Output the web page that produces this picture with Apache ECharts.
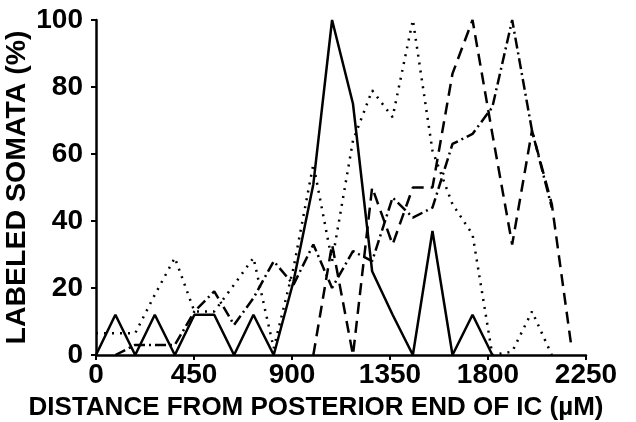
<!DOCTYPE html>
<html>
<head>
<meta charset="utf-8">
<script src="https://cdn.jsdelivr.net/npm/echarts@6/dist/echarts.min.js"></script>
<style>html,body{margin:0;padding:0;background:#fff}#c{width:636px;height:422px}</style>
</head>
<body>
<div id="c"></div>
<script>
// distance from posterior end of IC (µm), sampling positions
var distances = [0, 89, 180, 270, 362, 452, 543, 634, 723, 816, 907, 998, 1084, 1180, 1268, 1362, 1455, 1545, 1637, 1729, 1820, 1911, 2002, 2093, 2184];
// labeled somata (%)
var solidSeries   = [0, 12, 0, 12, 0, 12, 12, 0, 12, 0, 22, 51, 100, 75, 25, 12, 0, 37, 0, 12, 0, null, null, null, null];
var dottedSeries  = [6.5, 6.5, 6.5, 18, 29, 13, 13, 21, 29, 2, 26, 57, 28, 64, 79, 71, 100, 61, 45, 36, 0, 1, 13, 0, null];
var dashedSeries  = [null, null, null, null, null, null, null, null, null, null, null, 0, 33, 0, 50, 33, 50, 50, 84, 100, 66, 33, 67, 45, 2];
var dashDotSeries = [null, 0, 3, 3, 3, 13, 19, 9, 17, 28, 21, 33, 20, 31, 28, 47, 41, 44, 63, 66, 74, 100, 67, 44, null];
var xTicks = [0, 450, 900, 1350, 1800, 2250];
var yTicks = [0, 20, 40, 60, 80, 100];

function pairs(vals) {
  var out = [];
  for (var i = 0; i < distances.length; i++) out.push([distances[i], vals[i] === null ? null : vals[i]]);
  return out;
}
var FONT = 'Liberation Sans';
var chart = echarts.init(document.getElementById('c'), null, {renderer: 'canvas'});
function mk(name, vals, type, width) {
  return {
    name: name, type: 'line', data: pairs(vals), symbol: 'none', connectNulls: false,
    lineStyle: {color: '#000', width: width, type: type, cap: 'butt'}, animation: false, z: 3
  };
}
chart.setOption({
  backgroundColor: '#fff',
  animation: false,
  grid: {left: 96, right: 50, top: 20, bottom: 67, containLabel: false, outerBoundsMode: 'none'},
  xAxis: {
    type: 'value', min: xTicks[0], max: xTicks[xTicks.length - 1], interval: xTicks[1] - xTicks[0],
    name: 'DISTANCE FROM POSTERIOR END OF IC (µM)', nameLocation: 'middle', nameGap: 40,
    nameMoveOverlap: false,
    nameTextStyle: {fontFamily: FONT, fontSize: 26, fontWeight: 'bold', color: '#000', padding: [0, 50, 0, 0]},
    axisLine: {lineStyle: {color: '#000', width: 2.5}},
    axisTick: {length: 5, lineStyle: {color: '#000', width: 2}},
    axisLabel: {fontFamily: FONT, fontSize: 28, fontWeight: 'bold', color: '#000', margin: 6,
      formatter: function (v) { return String(v); }},
    splitLine: {show: false}
  },
  yAxis: {
    type: 'value', min: yTicks[0], max: yTicks[yTicks.length - 1], interval: yTicks[1] - yTicks[0],
    name: 'LABELED SOMATA (%)', nameLocation: 'middle', nameGap: 64, nameRotate: 90,
    nameMoveOverlap: false,
    nameTextStyle: {fontFamily: FONT, fontSize: 28.5, fontWeight: 'bold', color: '#000'},
    axisLine: {show: true, lineStyle: {color: '#000', width: 2.5}},
    axisTick: {show: true, length: 5, lineStyle: {color: '#000', width: 2}},
    axisLabel: {fontFamily: FONT, fontSize: 28, fontWeight: 'bold', color: '#000', margin: 13,
      formatter: function (v) { return String(v); }},
    splitLine: {show: false}
  },
  series: [
    mk('solid', solidSeries, 'solid', 2.5),
    mk('dotted', dottedSeries, [2, 6], 2.5),
    mk('dashed', dashedSeries, [12, 7], 2.5),
    mk('dashdot', dashDotSeries, [11, 4, 2, 4], 2.5)
  ]
});
</script>
</body>
</html>
